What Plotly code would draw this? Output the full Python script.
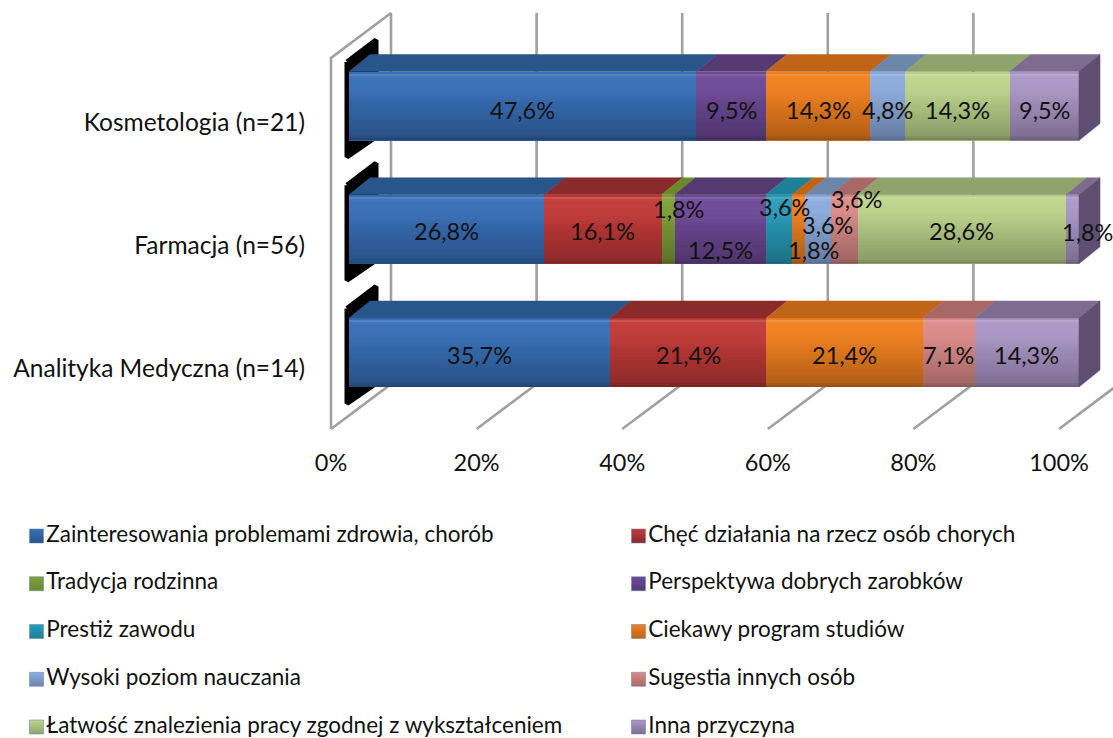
import plotly.graph_objects as go

categories = ["Analityka Medyczna (n=14)", "Farmacja (n=56)", "Kosmetologia (n=21)"]
series_names = [
    "Zainteresowania problemami zdrowia, chorób",
    "Chęć działania na rzecz osób chorych",
    "Tradycja rodzinna",
    "Perspektywa dobrych zarobków",
    "Prestiż zawodu",
    "Ciekawy program studiów",
    "Wysoki poziom nauczania",
    "Sugestia innych osób",
    "Łatwość znalezienia pracy zgodnej z wykształceniem",
    "Inna przyczyna",
]
zainteresowania = [35.7, 26.8, 47.6]
chec_dzialania = [21.4, 16.1, 0]
tradycja = [0, 1.8, 0]
perspektywa = [0, 12.5, 9.5]
prestiz = [0, 3.6, 0]
ciekawy_program = [21.4, 1.8, 14.3]
wysoki_poziom = [0, 3.6, 4.8]
sugestia = [7.1, 3.6, 0]
latwosc = [0, 28.6, 14.3]
inna = [14.3, 1.8, 9.5]
series_values = [zainteresowania, chec_dzialania, tradycja, perspektywa, prestiz,
                 ciekawy_program, wysoki_poziom, sugestia, latwosc, inna]
axis_ticks = [0, 20, 40, 60, 80, 100]

front_colors = ["#3870B8", "#C23A38", "#7F9F38", "#6F4A98", "#2A9DBA",
                "#F2811F", "#8DADDF", "#DD8C8A", "#BDD58D", "#AC98C8"]
top_colors = ["#28558A", "#8B2A2A", "#6A8A2D", "#553A72", "#1F7F96",
              "#BF6418", "#6D87AB", "#A86866", "#8FA36C", "#7E6C90"]
side_color = "#5E4E72"
wall_color = "#A0A0A0"

W, H = 1113, 738
PX_X, BAR_PX_X, PX_Y = 7.28, 7.3, 123.25   # pixels per percent (floor, bars), pixels per category
FLOOR_X0, BAR_X0, ROW0_Y = 331, 349, 352.5
BAR_W = 69 / PX_Y
DX, DY = 21 / BAR_PX_X, 17 / PX_Y          # bar depth
WALL_DX, WALL_DY = 60 / PX_X, 45 / PX_Y
WALL_BOTTOM = (ROW0_Y - 429) / PX_Y
WALL_FRONT_TOP = (ROW0_Y - 58) / PX_Y
LABEL_DY = 16 / PX_Y

# pixel nudges of the data labels that sit away from their segment (series, category)
label_nudge = {(2, 1): (10, 22), (3, 1): (0, -19), (4, 1): (6, 24), (5, 1): (15, -19),
               (6, 1): (9, 6), (7, 1): (12, 32), (9, 1): (15, -1)}
category_lift = [-2, -2, -4]

# the printed percentages are rounded, so each bar is closed to a full 100
totals = [sum(v[c] for v in series_values) for c in range(len(categories))]
shares = [[v[c] / totals[c] * 100 for c in range(len(categories))] for v in series_values]

fig = go.Figure()

# back wall, floor and gridlines on the floor scale
for t in axis_ticks:
    xs = [t, t + WALL_DX, t + WALL_DX]
    ys = [WALL_BOTTOM, WALL_BOTTOM + WALL_DY, WALL_FRONT_TOP + WALL_DY]
    if t == 0:
        xs = [0, 0, WALL_DX, WALL_DX, 0]
        ys = [WALL_BOTTOM, WALL_FRONT_TOP, WALL_FRONT_TOP + WALL_DY, WALL_BOTTOM + WALL_DY, WALL_BOTTOM]
    fig.add_trace(go.Scatter(x=xs, y=ys, mode="lines", xaxis="x", yaxis="y", hoverinfo="skip",
                             line=dict(color=wall_color, width=2.6), showlegend=False, cliponaxis=False))

# black left ends of the bars
for i in range(len(categories)):
    left, right = 16 / PX_X, 45 / PX_X
    fig.add_trace(go.Scatter(
        x=[left, left, right, right, left],
        y=[i + 44 / PX_Y, i - 51 / PX_Y, i - 31 / PX_Y, i + 66 / PX_Y, i + 44 / PX_Y],
        mode="lines", fill="toself", fillcolor="black", line=dict(color="black", width=5),
        xaxis="x", yaxis="y", hoverinfo="skip", showlegend=False))

# stacked front faces
for name, vals, col in zip(series_names, shares, front_colors):
    fig.add_trace(go.Bar(y=list(range(len(categories))), x=vals, name=name, orientation="h",
                         width=BAR_W, marker=dict(color=col, line=dict(width=0)),
                         xaxis="x2", yaxis="y", showlegend=False))

# top and right faces, following the same values
annotations = []
for c in range(len(categories)):
    start = 0.0
    top = c + BAR_W / 2
    for s, vals in enumerate(series_values):
        v = vals[c]
        if not v:
            continue
        a, b = start, start + shares[s][c]
        fig.add_trace(go.Scatter(x=[a, a + DX, b + DX, b, a], y=[top, top + DY, top + DY, top, top],
                                 mode="lines", fill="toself", fillcolor=top_colors[s],
                                 line=dict(color=top_colors[s], width=0.5), xaxis="x2", yaxis="y",
                                 hoverinfo="skip", showlegend=False))
        nx, ny = label_nudge.get((s, c), (0, 0))
        annotations.append(dict(x=(a + b) / 2, y=c, xref="x2", yref="y", showarrow=False,
                                text=f"{v:.1f}%".replace(".", ","), xshift=nx, yshift=ny + category_lift[c],
                                font=dict(family="Lato", size=23.5, color="#111111")))
        start = b
    bot = c - BAR_W / 2
    fig.add_trace(go.Scatter(x=[start, start + DX, start + DX, start, start],
                             y=[top, top + DY, bot + DY, bot, top], mode="lines", fill="toself",
                             fillcolor=side_color, line=dict(color=side_color, width=0.5),
                             xaxis="x2", yaxis="y", hoverinfo="skip", showlegend=False))

# vertical sheen over the front faces
ROWS = 34
for c in range(len(categories)):
    fig.add_trace(go.Heatmap(
        x=[0, 100],
        y=[c - BAR_W / 2 + BAR_W * r / ROWS for r in range(ROWS + 1)],
        z=[[r / (ROWS - 1)] for r in range(ROWS)],
        zmin=0, zmax=1, showscale=False, hoverinfo="skip", xaxis="x3", yaxis="y",
        colorscale=[[0, "rgba(0,0,0,0.36)"], [0.06, "rgba(0,0,0,0.26)"], [0.55, "rgba(0,0,0,0.08)"],
                    [0.93, "rgba(255,255,255,0.02)"], [0.97, "rgba(255,255,255,0.14)"],
                    [1, "rgba(0,0,0,0.02)"]]))

# key: swatch and name in two columns
for i, (name, col) in enumerate(zip(series_names, front_colors)):
    fig.add_trace(go.Scatter(
        x=[i % 2], y=[i // 2], mode="markers+text", text=[name], textposition="middle right",
        textfont=dict(family="Lato", size=22.5, color="#111111"),
        marker=dict(symbol="square", size=14, color=col,
                    gradient=dict(type="vertical", color=top_colors[i]),
                    line=dict(color="#5A7FA8", width=0.5)),
        xaxis="x4", yaxis="y2", hoverinfo="skip", showlegend=False, cliponaxis=False))

hidden = dict(visible=False, showgrid=False, zeroline=False, fixedrange=True)
bar_range = [(0 - BAR_X0) / BAR_PX_X, (W - BAR_X0) / BAR_PX_X]
fig.update_layout(
    width=W, height=H, margin=dict(l=0, r=0, t=0, b=0), paper_bgcolor="white", plot_bgcolor="white",
    barmode="stack", bargap=0, showlegend=False, annotations=annotations,
    font=dict(family="Lato", size=24, color="#111111"),
    xaxis=dict(range=[(0 - FLOOR_X0) / PX_X, (W - FLOOR_X0) / PX_X], domain=[0, 1], anchor="free",
               position=(H - 446) / H, tickmode="array", tickvals=axis_ticks,
               ticktext=[f"{t}%" for t in axis_ticks], ticks="", showgrid=False, zeroline=False,
               showline=False, tickangle=0, tickfont=dict(family="Lato", size=23.5, color="#111111")),
    yaxis=dict(range=[(ROW0_Y - H) / PX_Y, ROW0_Y / PX_Y], domain=[0, 1], anchor="free",
               position=305 / W, tickmode="array", tickvals=[i - LABEL_DY for i in range(3)],
               ticktext=categories, ticks="", showgrid=False, zeroline=False, showline=False,
               tickfont=dict(family="Lato", size=24.5, color="#111111")),
    xaxis2=dict(range=bar_range, overlaying="x", anchor="y", **hidden),
    xaxis3=dict(range=bar_range, overlaying="x", anchor="y", **hidden),
    xaxis4=dict(range=[-36.5 / 602, (W - 36.5) / 602], overlaying="x", anchor="y2", **hidden),
    yaxis2=dict(range=[(H - 536) / 47.75, -536 / 47.75], overlaying="y", anchor="x4", **hidden),
)
fig.write_html("out.html", config=dict(displayModeBar=False),
               post_script="document.body.style.margin='0';document.documentElement.style.overflow='hidden';")
